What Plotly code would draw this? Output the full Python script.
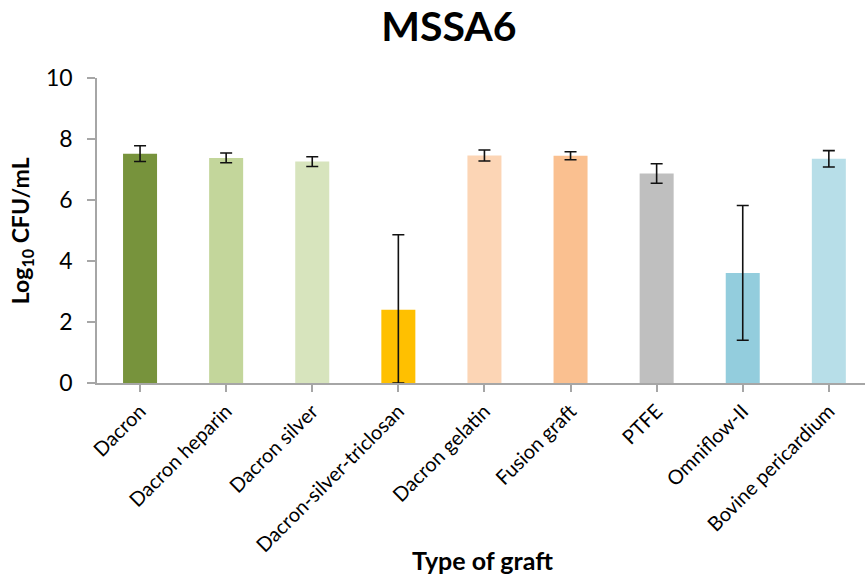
import plotly.graph_objects as go

categories = ["Dacron", "Dacron heparin", "Dacron silver", "Dacron-silver-triclosan",
              "Dacron gelatin", "Fusion graft", "PTFE", "Omniflow-II", "Bovine pericardium"]
values = [7.52, 7.38, 7.26, 2.40, 7.46, 7.45, 6.87, 3.61, 7.35]
err_plus = [0.26, 0.16, 0.16, 2.46, 0.18, 0.13, 0.32, 2.21, 0.27]
err_minus = [0.26, 0.16, 0.16, 2.40, 0.18, 0.13, 0.32, 2.21, 0.27]
colors = ["#77933C", "#C3D69B", "#D7E4BD", "#FFC000", "#FCD5B5",
          "#FAC090", "#BFBFBF", "#93CDDD", "#B7DEE8"]

FONT = "Lato, 'Open Sans', sans-serif"

fig = go.Figure(go.Bar(
    x=list(range(len(categories))),
    y=values,
    marker=dict(color=colors, line=dict(width=0)),
    width=0.395,
    error_y=dict(type="data", symmetric=False, array=err_plus, arrayminus=err_minus,
                 color="#111111", thickness=1.6, width=6),
))

fig.update_layout(
    width=865, height=577,
    margin=dict(l=97, r=0, t=78, b=194, autoexpand=False),
    paper_bgcolor="white", plot_bgcolor="white",
    showlegend=False,
    title=dict(text="<b>MSSA6</b>", x=0.519, xanchor="center", y=0.953, yanchor="middle",
               font=dict(family=FONT, size=41, color="black")),
    font=dict(family=FONT, color="black"),
    annotations=[
        dict(text="<b>Type of graft</b>", xref="paper", yref="paper", x=0.502, y=-0.579,
             xanchor="center", yanchor="middle", showarrow=False,
             font=dict(size=25, family=FONT, color="black")),
        dict(text="<b>Log<sub>10</sub> CFU/mL</b>", xref="paper", yref="paper", x=-0.098, y=0.5,
             xanchor="center", yanchor="middle", textangle=-90, showarrow=False,
             font=dict(size=23, family=FONT, color="black")),
    ],
)

fig.update_xaxes(
    range=[-0.5, 8.42], automargin=False,
    tickmode="array", tickvals=list(range(len(categories))), ticktext=categories,
    tickangle=-45, tickfont=dict(size=20, family=FONT, color="black"),
    showline=True, linecolor="#A6A6A6", linewidth=1.5,
    ticks="outside", ticklen=7, tickcolor="#A6A6A6", tickwidth=1.5,
    tickson="boundaries", showgrid=False, zeroline=False,
)

fig.update_yaxes(
    range=[0, 10], tickvals=[0, 2, 4, 6, 8, 10], automargin=False,
    tickfont=dict(size=23, family=FONT, color="black"),
    showline=True, linecolor="#A6A6A6", linewidth=1.5,
    ticks="outside", ticklen=8, tickcolor="#A6A6A6", tickwidth=1.5,
    ticklabelstandoff=10,
    showgrid=False, zeroline=False,
)

fig.write_html("out.html", config={"displayModeBar": False},
               post_script="document.body.style.margin='0';document.body.style.overflow='hidden';")
